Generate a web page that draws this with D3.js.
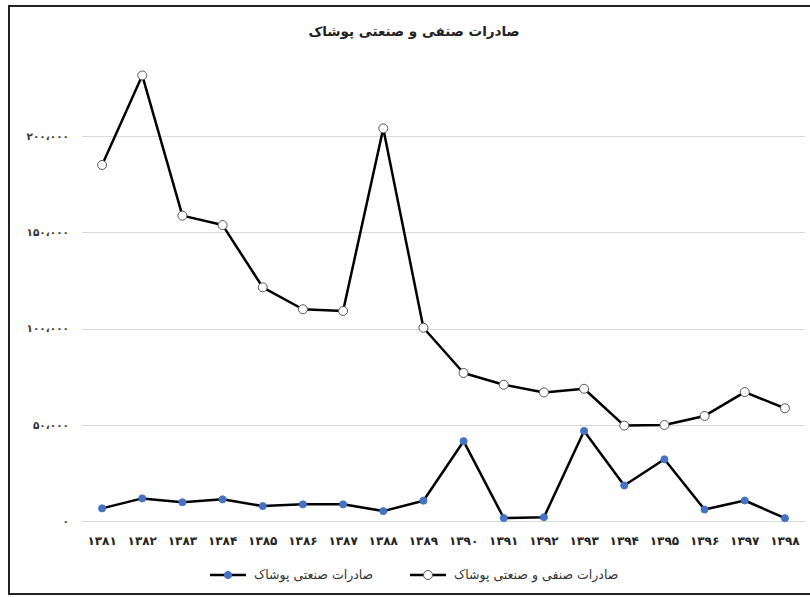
<!DOCTYPE html>
<html><head><meta charset="utf-8">
<script src="https://cdn.jsdelivr.net/npm/d3@7"></script>
<style>
html,body{margin:0;padding:0;background:#fff;}
svg{display:block;}
</style></head>
<body>
<svg id="c" width="810" height="597"></svg>
<script>
const categories = ["۱۳۸۱","۱۳۸۲","۱۳۸۳","۱۳۸۴","۱۳۸۵","۱۳۸۶","۱۳۸۷","۱۳۸۸","۱۳۸۹","۱۳۹۰","۱۳۹۱","۱۳۹۲","۱۳۹۳","۱۳۹۴","۱۳۹۵","۱۳۹۶","۱۳۹۷","۱۳۹۸"];
const totalExports = [185000,231500,158700,153800,121500,110100,109200,204000,100500,77000,70900,66900,68800,49700,50000,54700,67100,58700];
const industrialExports = [6700,11900,9900,11400,7900,8800,8800,5300,10700,41600,1700,2100,46900,18600,32200,6100,10800,1600];
const yTicks = [0,50000,100000,150000,200000];
const yTickLabels = ["۰","۵۰،۰۰۰","۱۰۰،۰۰۰","۱۵۰،۰۰۰","۲۰۰،۰۰۰"];
const title = "صادرات صنفی و صنعتی پوشاک";
const seriesNames = ["صادرات صنعتی پوشاک","صادرات صنفی و صنعتی پوشاک"];

const svg = d3.select("#c");
const font = "'DejaVu Sans', sans-serif";

// frame
svg.append("rect").attr("x",9).attr("y",6).attr("width",820).attr("height",588)
  .attr("fill","#fff").attr("stroke","#222").attr("stroke-width",2);

const x = d3.scaleBand().domain(categories).range([82,805]).padding(0);
const y = d3.scaleLinear().domain([0,200000]).range([521.3,136.1]);

// gridlines
svg.append("g").selectAll("line").data(yTicks).join("line")
  .attr("x1",82).attr("x2",805)
  .attr("y1",d=>Math.round(y(d))+0.5).attr("y2",d=>Math.round(y(d))+0.5)
  .attr("stroke","#d9d9d9").attr("stroke-width",1);

// y labels
svg.append("g").selectAll("text").data(yTicks).join("text")
  .attr("x",69).attr("y",d=>y(d)).attr("dy","0.35em")
  .attr("text-anchor","end").attr("font-family",font).attr("font-weight","bold")
  .attr("font-size",10.5).attr("fill","#333")
  .text((d,i)=>yTickLabels[i]);

// x labels
svg.append("g").selectAll("text").data(categories).join("text")
  .attr("x",d=>x(d)+x.bandwidth()/2).attr("y",541).attr("dy","0.35em")
  .attr("text-anchor","middle").attr("font-family",font).attr("font-weight","bold")
  .attr("font-size",12).attr("fill","#222")
  .text(d=>d);

const cx = (d,i)=>x(categories[i])+x.bandwidth()/2;
const line = d3.line().x(cx).y(d=>y(d));

// series lines
svg.append("path").datum(totalExports).attr("d",line)
  .attr("fill","none").attr("stroke","#000").attr("stroke-width",2.5).attr("stroke-linejoin","round");
svg.append("path").datum(industrialExports).attr("d",line)
  .attr("fill","none").attr("stroke","#000").attr("stroke-width",2.5).attr("stroke-linejoin","round");

// markers
svg.append("g").selectAll("circle").data(totalExports).join("circle")
  .attr("cx",cx).attr("cy",d=>y(d)).attr("r",4.5)
  .attr("fill","#fff").attr("stroke","#555").attr("stroke-width",1);
svg.append("g").selectAll("circle").data(industrialExports).join("circle")
  .attr("cx",cx).attr("cy",d=>y(d)).attr("r",3.6)
  .attr("fill","#4472c4").attr("stroke","#4472c4").attr("stroke-width",0.8);

// title
svg.append("text").attr("x",414).attr("y",31).attr("dy","0.35em")
  .attr("text-anchor","middle").attr("font-family",font).attr("font-size",13.5)
  .attr("font-weight","bold").attr("fill","#222").text(title);

// legend
const leg = svg.append("g");
const items = [
  {x:210, name:seriesNames[0], fill:"#4472c4", stroke:"#4472c4", r:3.6},
  {x:410, name:seriesNames[1], fill:"#fff", stroke:"#555", r:4.5}
];
items.forEach(it=>{
  const g = leg.append("g");
  g.append("line").attr("x1",it.x).attr("x2",it.x+36).attr("y1",575).attr("y2",575)
    .attr("stroke","#000").attr("stroke-width",2.5);
  g.append("circle").attr("cx",it.x+18).attr("cy",575).attr("r",it.r)
    .attr("fill",it.fill).attr("stroke",it.stroke).attr("stroke-width",1);
  g.append("text").attr("x",it.x+44).attr("y",575).attr("dy","0.35em")
    .attr("text-anchor","start").attr("font-family",font).attr("font-size",12.5)
    .attr("fill","#333")
    .text(it.name);
});
</script>
</body></html>
